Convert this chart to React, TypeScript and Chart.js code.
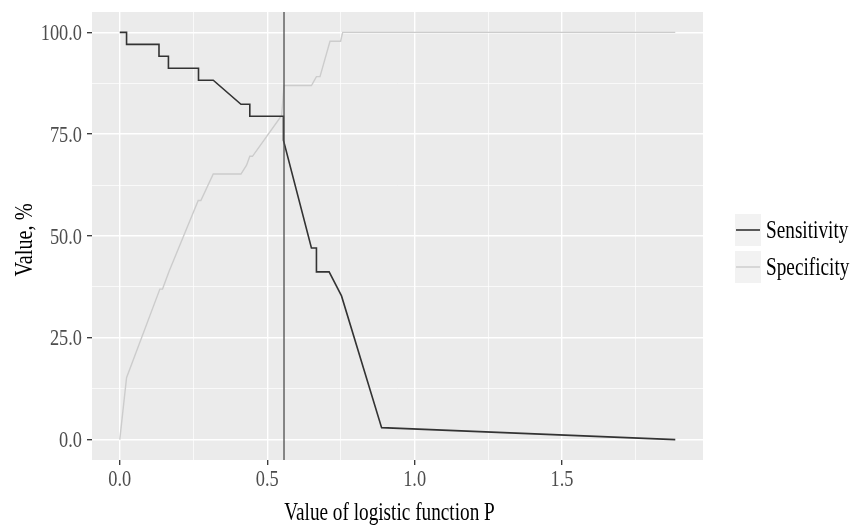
import React, { useEffect, useRef } from "react";
import { Chart, registerables } from "chart.js";

Chart.register(...registerables);

// ---- data ----
const sensX = [0, 0.023, 0.023, 0.133, 0.133, 0.165, 0.165, 0.267, 0.267, 0.317, 0.411, 0.441, 0.441, 0.555, 0.555, 0.65, 0.667, 0.667, 0.71, 0.752, 0.888, 1.884];
const sensY = [100, 100, 97.06, 97.06, 94.12, 94.12, 91.18, 91.18, 88.24, 88.24, 82.35, 82.35, 79.41, 79.41, 73.53, 47.06, 47.06, 41.18, 41.18, 35.29, 2.94, 0];

const specX = [0, 0.023, 0.136, 0.145, 0.167, 0.266, 0.275, 0.317, 0.411, 0.43, 0.441, 0.45, 0.549, 0.557, 0.65, 0.667, 0.679, 0.713, 0.749, 0.756, 1.884];
const specY = [0, 15.22, 36.96, 36.96, 41.3, 58.7, 58.7, 65.22, 65.22, 67.39, 69.57, 69.57, 79.6, 86.96, 86.96, 89.13, 89.13, 97.83, 97.83, 100, 100];

const cutoff = 0.557;

const seriesNames = ["Sensitivity", "Specificity"];
const seriesColors = ["#333333", "#CCCCCC"];

const xTickValues = [0, 0.5, 1.0, 1.5];
const xTickLabels = ["0.0", "0.5", "1.0", "1.5"];
const xMinorValues = [0.25, 0.75, 1.25, 1.75];
const yTickValues = [0, 25, 50, 75, 100];
const yTickLabels = ["0.0", "25.0", "50.0", "75.0", "100.0"];
const yMinorValues = [12.5, 37.5, 62.5, 87.5];

const xTitle = "Value of logistic function P";
const yTitle = "Value, %";

const X_MIN = -0.0942;
const X_MAX = 1.978;
const Y_MIN = -5;
const Y_MAX = 105;

const FONT = '"Liberation Serif", "Times New Roman", serif';

function drawText(
  ctx: CanvasRenderingContext2D,
  text: string,
  x: number,
  y: number,
  size: number,
  sx: number,
  align: CanvasTextAlign,
  baseline: CanvasTextBaseline,
  color: string,
  rotate = false
) {
  ctx.save();
  ctx.translate(x, y);
  if (rotate) ctx.rotate(-Math.PI / 2);
  ctx.scale(sx, 1);
  ctx.font = `${size}px ${FONT}`;
  ctx.fillStyle = color;
  ctx.textAlign = align;
  ctx.textBaseline = baseline;
  ctx.fillText(text, 0, 0);
  ctx.restore();
}

const panelPlugin = {
  id: "panelBg",
  beforeDraw(chart: any) {
    const { ctx, chartArea } = chart;
    ctx.save();
    ctx.fillStyle = "#EBEBEB";
    ctx.fillRect(chartArea.left, chartArea.top, chartArea.right - chartArea.left, chartArea.bottom - chartArea.top);
    ctx.restore();
  },
};

const textPlugin = {
  id: "ggText",
  afterDraw(chart: any) {
    const { ctx, chartArea } = chart;
    const xs = chart.scales.x;
    const ys = chart.scales.y;
    // y tick labels
    yTickValues.forEach((v, i) => {
      const py = ys.getPixelForValue(v);
      drawText(ctx, yTickLabels[i], chartArea.left - 10, py + 7.6, 23.5, 0.78, "right", "alphabetic", "#4D4D4D");
    });
    // x tick labels
    xTickValues.forEach((v, i) => {
      const px = xs.getPixelForValue(v);
      drawText(ctx, xTickLabels[i], px, chartArea.bottom + 26, 23.5, 0.78, "center", "alphabetic", "#4D4D4D");
    });
    // axis titles
    drawText(ctx, xTitle, (chartArea.left + chartArea.right) / 2 - 8, 520, 26, 0.74, "center", "alphabetic", "#000000");
    drawText(ctx, yTitle, 32, (chartArea.top + chartArea.bottom) / 2 + 4, 26, 0.78, "center", "alphabetic", "#000000", true);

    // legend
    const keyX = 735;
    const keyW = 26;
    const keyH = 32;
    const keyTops = [214, 251];
    seriesNames.forEach((name, i) => {
      const top = keyTops[i];
      ctx.save();
      ctx.fillStyle = "#F2F2F2";
      ctx.fillRect(keyX, top, keyW, keyH);
      ctx.strokeStyle = seriesColors[i];
      ctx.lineWidth = i === 0 ? 1.6 : 1.4;
      ctx.beginPath();
      ctx.moveTo(keyX + 1, top + keyH / 2);
      ctx.lineTo(keyX + keyW - 1, top + keyH / 2);
      ctx.stroke();
      ctx.restore();
      drawText(ctx, name, keyX + keyW + 5, top + keyH / 2 + 8, 25, 0.77, "left", "alphabetic", "#000000");
    });
  },
};

export default function App() {
  const canvasRef = useRef<HTMLCanvasElement | null>(null);

  useEffect(() => {
    if (!canvasRef.current) return;
    const isMajorX = (v: number) => xTickValues.some((t) => Math.abs(t - v) < 1e-9);
    const isMajorY = (v: number) => yTickValues.some((t) => Math.abs(t - v) < 1e-9);

    const chart = new Chart(canvasRef.current, {
      type: "scatter",
      data: {
        datasets: [
          {
            label: "cutoff",
            data: [
              { x: cutoff, y: Y_MIN },
              { x: cutoff, y: Y_MAX },
            ],
            showLine: true,
            borderColor: "#4D4D4D",
            borderWidth: 1.3,
            pointRadius: 0,
            order: 0,
          },
          {
            label: seriesNames[0],
            data: sensX.map((x, i) => ({ x, y: sensY[i] })),
            showLine: true,
            borderColor: seriesColors[0],
            borderWidth: 1.6,
            pointRadius: 0,
            order: 1,
          },
          {
            label: seriesNames[1],
            data: specX.map((x, i) => ({ x, y: specY[i] })),
            showLine: true,
            borderColor: seriesColors[1],
            borderWidth: 1.4,
            pointRadius: 0,
            order: 2,
          },
        ],
      },
      options: {
        responsive: false,
        animation: false,
        devicePixelRatio: 1,
        layout: { padding: { left: 87, top: 12, right: 150, bottom: 60 } },
        plugins: {
          legend: { display: false },
          tooltip: { enabled: false },
        },
        scales: {
          x: {
            type: "linear",
            min: X_MIN,
            max: X_MAX,
            afterBuildTicks: (axis: any) => {
              axis.ticks = [...xTickValues, ...xMinorValues].sort((a, b) => a - b).map((value) => ({ value }));
            },
            ticks: { display: false },
            border: { display: false },
            grid: {
              color: "#FFFFFF",
              lineWidth: (c: any) => (isMajorX(c.tick.value) ? 1.4 : 0.7),
              drawTicks: true,
              tickLength: 5,
              tickWidth: 1.3,
              tickColor: (c: any) => (isMajorX(c.tick.value) ? "#333333" : "rgba(0,0,0,0)"),
            },
          },
          y: {
            type: "linear",
            min: Y_MIN,
            max: Y_MAX,
            afterBuildTicks: (axis: any) => {
              axis.ticks = [...yTickValues, ...yMinorValues].sort((a, b) => a - b).map((value) => ({ value }));
            },
            ticks: { display: false },
            border: { display: false },
            grid: {
              color: "#FFFFFF",
              lineWidth: (c: any) => (isMajorY(c.tick.value) ? 1.4 : 0.7),
              drawTicks: true,
              tickLength: 5,
              tickWidth: 1.3,
              tickColor: (c: any) => (isMajorY(c.tick.value) ? "#333333" : "rgba(0,0,0,0)"),
            },
          },
        },
      },
      plugins: [panelPlugin, textPlugin],
    } as any);

    return () => chart.destroy();
  }, []);

  return (
    <div style={{ position: "fixed", left: 0, top: 0, width: 853, height: 525, background: "#FFFFFF" }}>
      <canvas ref={canvasRef} width={853} height={525} style={{ display: "block", width: 853, height: 525 }} />
    </div>
  );
}
